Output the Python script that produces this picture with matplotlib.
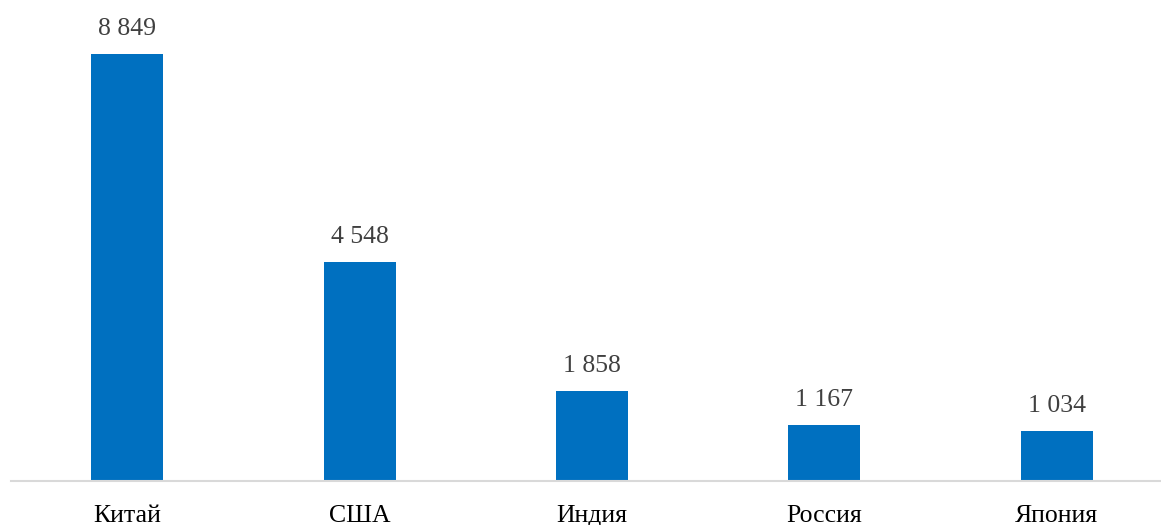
import matplotlib
matplotlib.use("Agg")
import matplotlib.pyplot as plt

countries = ["Китай", "США", "Индия", "Россия", "Япония"]
values = [8849, 4548, 1858, 1167, 1034]
value_labels = ["8 849", "4 548", "1 858", "1 167", "1 034"]

plt.rcParams["font.family"] = ["Liberation Serif", "DejaVu Serif"]

W, H = 1161, 525
fig = plt.figure(figsize=(W / 100, H / 100), dpi=100)
# axes spans from x=11px to beyond the right edge, baseline at y=481px
left_px, right_px = 11, 1173
bottom_px, top_px = 481, 10
ax = fig.add_axes([left_px / W, (H - bottom_px) / H,
                   (right_px - left_px) / W, (bottom_px - top_px) / H])

x = list(range(len(countries)))
bars = ax.bar(x, values, width=0.31, color="#0070C0", zorder=2)
ax.set_xlim(-0.5, len(countries) - 0.5)
ax.set_ylim(0, 8849 * (bottom_px - top_px) / 427)

for xi, v, lab in zip(x, values, value_labels):
    ax.annotate(lab, (xi, v), xytext=(0, 25), textcoords="offset pixels",
                ha="center", va="center", fontsize=18.5, color="#404040")

ax.set_xticks(x)
ax.set_xticklabels(countries, fontsize=18.5, color="black")
ax.tick_params(axis="x", length=0, pad=17)
ax.set_yticks([])
for s in ["top", "right", "left"]:
    ax.spines[s].set_visible(False)
ax.spines["bottom"].set_color("#D9D9D9")
ax.spines["bottom"].set_linewidth(1.5)

fig.savefig("out.png", dpi=100)
